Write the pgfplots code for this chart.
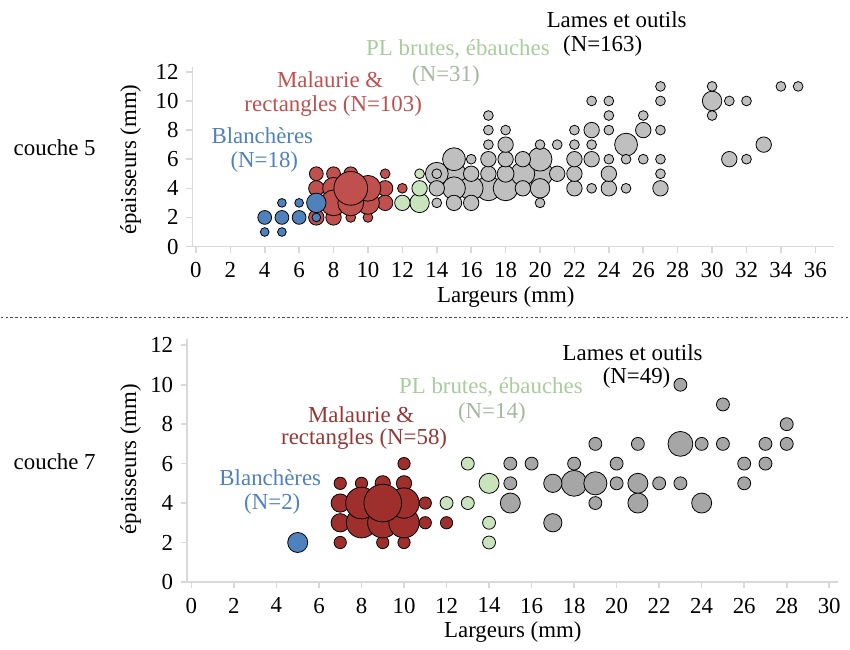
\documentclass[border=0pt]{standalone}
\usepackage{fontspec}
\setmainfont{Liberation Serif}
\usepackage{pgfplots}
\usepackage{pgfplotstable}
\pgfplotsset{compat=1.18}

\definecolor{bleu}{HTML}{4F81BD}
\definecolor{rougeA}{HTML}{C0504D}
\definecolor{rougeB}{HTML}{9E2F2D}
\definecolor{rougeBT}{HTML}{953735}
\definecolor{vert}{HTML}{C9E3BD}
\definecolor{vertT}{HTML}{A9CC9C}
\definecolor{vertN}{HTML}{A3B89F}
\definecolor{grisA}{HTML}{BFBFBF}
\definecolor{grisB}{HTML}{A6A6A6}
\definecolor{axe}{HTML}{D9D9D9}

% couche 5 : largeur, epaisseur, taille relative de la bulle
\pgfplotstableread{
x y n
20 5 7
17 4 6.5
18 4 6.5
15 5 6
16 4 6
19 5 6
20 6 6
14 5 5.5
15 4 5.5
15 6 5.5
25 7 5.5
20 4 4
30 10 4
18 5 3
14 4 2.5
15 3 2.5
16 3 2.5
16 5 2.5
17 5 2.5
17 6 2.5
18 6 2.5
18 7 2.5
19 4 2.5
19 6 2.5
21 5 2.5
22 4 2.5
22 5 2.5
22 6 2.5
23 6 2.5
23 8 2.5
24 4 2.5
24 5 2.5
26 8 2.5
27 4 2.5
31 6 2.5
33 7 2.5
14 3 1
14 5 1
16 6 1
17 7 1
17 8 1
17 9 1
18 8 1
20 3 1
20 7 1
21 7 1
22 7 1
22 8 1
23 4 1
23 7 1
23 10 1
24 6 1
24 8 1
24 9 1
24 10 1
25 4 1
25 6 1
26 6 1
26 9 1
27 5 1
27 6 1
27 8 1
27 10 1
27 11 1
30 9 1
30 11 1
31 10 1
32 6 1
32 10 1
34 11 1
35 11 1
}\cinqLames

\pgfplotstableread{
x y n
7 4 2.5
7 2 2.5
8 2 2.5
7 5 2
8 5 2
9 5 2
11 4 2.5
11 3 2.5
9 2 1
10 2 1
11 5 1
12 4 1
7 3 1
10 3 5.5
8 4 5
8 3 7
9 3 7
10 4 7
9 4 12
}\cinqMalaurie

\pgfplotstableread{
x y n
13 3 4
12 3 2.5
13 4 2.5
13 5 1
}\cinqPL

\pgfplotstableread{
x y n
7 3 4
4 2 2
5 2 2
6 2 2
4 1 0.8
5 1 0.8
5 3 0.8
6 3 0.8
7 2 0.8
}\cinqBlanch

% couche 7
\pgfplotstableread{
x y n
18 5 4
23 7 3.7
19 5 3.2
15 4 2.4
21 5 2.4
21 4 2.4
24 4 2.4
17 5 2
17 3 2
15 6 1
15 5 1
16 6 1
18 6 1
19 7 1
19 4 1
20 6 1
20 5 1
21 7 1
22 5 1
23 10 1
23 5 1
24 7 1
25 9 1
25 7 1
26 6 1
26 5 1
27 7 1
27 6 1
28 8 1
28 7 1
}\septLames

\pgfplotstableread{
x y n
7 3 2
7 4 2
9 5 1.4
10 5 1.4
7 5 0.9
8 5 0.9
7 2 0.9
9 2 0.9
10 2 0.9
10 6 0.9
11 4 0.9
11 3 0.9
12 3 0.9
8 3 5.5
9 3 5.5
10 3 5.5
8 4 6
10 4 5.5
9 4 8.5
}\septMalaurie

\pgfplotstableread{
x y n
14 5 2.4
12 4 1
13 4 1
13 6 1
14 3 1
14 2 1
}\septPL

\pgfplotstableread{
x y n
5 2 2.4
}\septBlanch

\pgfplotsset{
  bulle/.style 2 args={
    only marks, scatter, mark=*,
    visualization depends on={#1*sqrt(\thisrow{n}) \as \rayon},
    scatter/use mapped color={draw=black, fill=#2},
    scatter/@pre marker code/.append style={/tikz/mark size=\rayon, /tikz/line width=0.9pt},
  },
  panneau/.style={
    scale only axis,
    axis x line*=bottom, axis y line*=left,
    axis line style={draw=axe, line width=0.8pt, -},
    tick style={draw=axe, line width=0.8pt},
    tick align=outside, major tick length=3pt,
    ymin=0, ymax=12.3, ytick={0,2,...,12},
    /pgf/number format/assume math mode=true,
    x tick label style={yshift=-1pt},
    clip=false,
  },
}

\begin{document}
\fontsize{11.5}{13.5}\selectfont
\begin{tikzpicture}[x=0.5bp, y=-0.5bp]
\path (0,0) rectangle (850,650);

% ---- couche 5
\begin{axis}[panneau,
  at={(96bp,-123.5bp)}, anchor=south west,
  width=321.5bp, height=89.7bp,
  xmin=-0.2, xmax=37.1, xtick={0,2,...,36},
]
\addplot[bulle={2.45}{grisA}] table[x=x, y=y] {\cinqLames};
\addplot[bulle={2.45}{rougeA}] table[x=x, y=y] {\cinqMalaurie};
\addplot[bulle={2.45}{vert}] table[x=x, y=y] {\cinqPL};
\addplot[bulle={2.45}{bleu}] table[x=x, y=y] {\cinqBlanch};
\end{axis}

% ---- couche 7
\begin{axis}[panneau,
  at={(93.35bp,-291.5bp)}, anchor=south west,
  width=325.9bp, height=121.5bp,
  xmin=-0.2, xmax=30.4, xtick={0,2,...,30},
]
\addplot[bulle={3.25}{grisB}] table[x=x, y=y] {\septLames};
\addplot[bulle={3.25}{rougeB}] table[x=x, y=y] {\septMalaurie};
\addplot[bulle={3.25}{vert}] table[x=x, y=y] {\septPL};
\addplot[bulle={3.25}{bleu}] table[x=x, y=y] {\septBlanch};
\end{axis}

% titres des axes
\node[rotate=90] at (130,160) {épaisseurs (mm)};
\node[rotate=90] at (130,460) {épaisseurs (mm)};
\node at (506,298) {Largeurs (mm)};
\node at (513,633) {Largeurs (mm)};
\node at (54,148) {couche 5};
\node at (54,463) {couche 7};

% separation
\draw[gray!60!black, line width=0.8pt, dash pattern=on 1.2pt off 1.2pt] (0,318) -- (850,318);

% etiquettes couche 5
\node at (617,20) {Lames et outils};
\node at (603,46) {(N=163)};
\node[text=vertT] at (458,49) {PL brutes, ébauches};
\node[text=vertN] at (446,76) {(N=31)};
\node[text=rougeA] at (330,80) {Malaurie \&};
\node[text=rougeA] at (333,106) {rectangles (N=103)};
\node[text=bleu] at (262,136) {Blanchères};
\node[text=bleu] at (264,162) {(N=18)};

% etiquettes couche 7
\node at (633,353) {Lames et outils};
\node at (637,379) {(N=49)};
\node[text=vertT] at (491,388) {PL brutes, ébauches};
\node[text=vertN] at (492,414) {(N=14)};
\node[text=rougeBT] at (361,415) {Malaurie \&};
\node[text=rougeBT] at (364,440) {rectangles (N=58)};
\node[text=bleu] at (270,479) {Blanchères};
\node[text=bleu] at (272,505) {(N=2)};
\end{tikzpicture}
\end{document}
